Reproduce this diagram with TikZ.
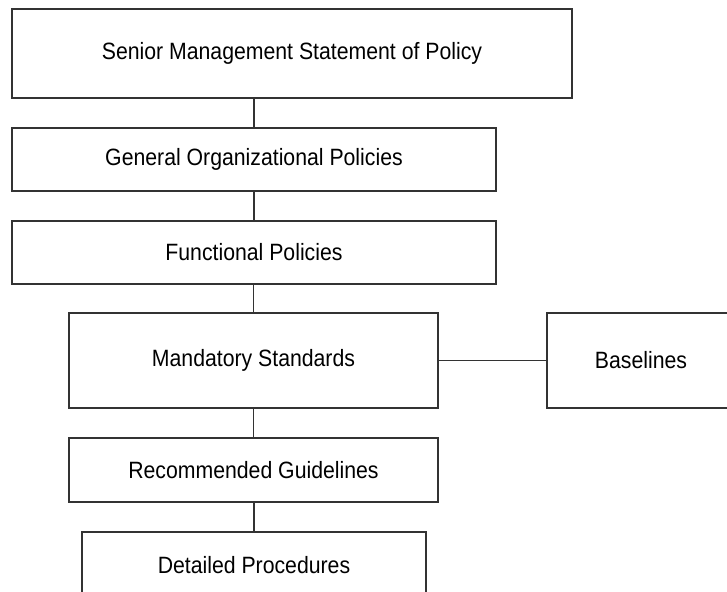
\documentclass[tikz,border=0pt]{standalone}
\usepackage{fontspec}
\setmainfont{Liberation Sans}[FakeStretch=0.9]
\begin{document}
\begin{tikzpicture}[x=1pt,y=-1pt,
  box/.style={draw=black!80,line width=1.4pt,rectangle,inner sep=0pt,
    font=\fontsize{23.6}{28}\selectfont},
  link/.style={draw=black!80,line width=1.4pt}]
\useasboundingbox (0,0) rectangle (727,591);
\clip (0,0) rectangle (727,591);
\node[box,minimum width=560pt,minimum height=89pt] (b1) at (292,53.5) {Senior Management Statement of Policy};
\node[box,minimum width=484pt,minimum height=63pt] (b2) at (254,159.5) {General Organizational Policies};
\node[box,minimum width=484pt,minimum height=63pt] (b3) at (254,252.5) {Functional Policies};
\node[box,minimum width=369pt,minimum height=95pt] (b4) at (253.5,360.5) {Mandatory Standards};
\node[box,minimum width=188pt,minimum height=95pt] (b5) at (641,360.5) {Baselines};
\node[box,minimum width=369pt,minimum height=64pt] (b6) at (253.5,470) {Recommended Guidelines};
\node[box,minimum width=344pt,minimum height=66pt] (b7) at (254,565) {Detailed Procedures};
\draw[link] (b1.south -| b2.north) -- (b2.north);
\draw[link] (b2.south) -- (b3.north);
\draw[link] (b3.south -| b4.north) -- (b4.north);
\draw[link] (b4.east) -- (b5.west);
\draw[link] (b4.south) -- (b6.north);
\draw[link] (b6.south -| b7.north) -- (b7.north);
\end{tikzpicture}
\end{document}
